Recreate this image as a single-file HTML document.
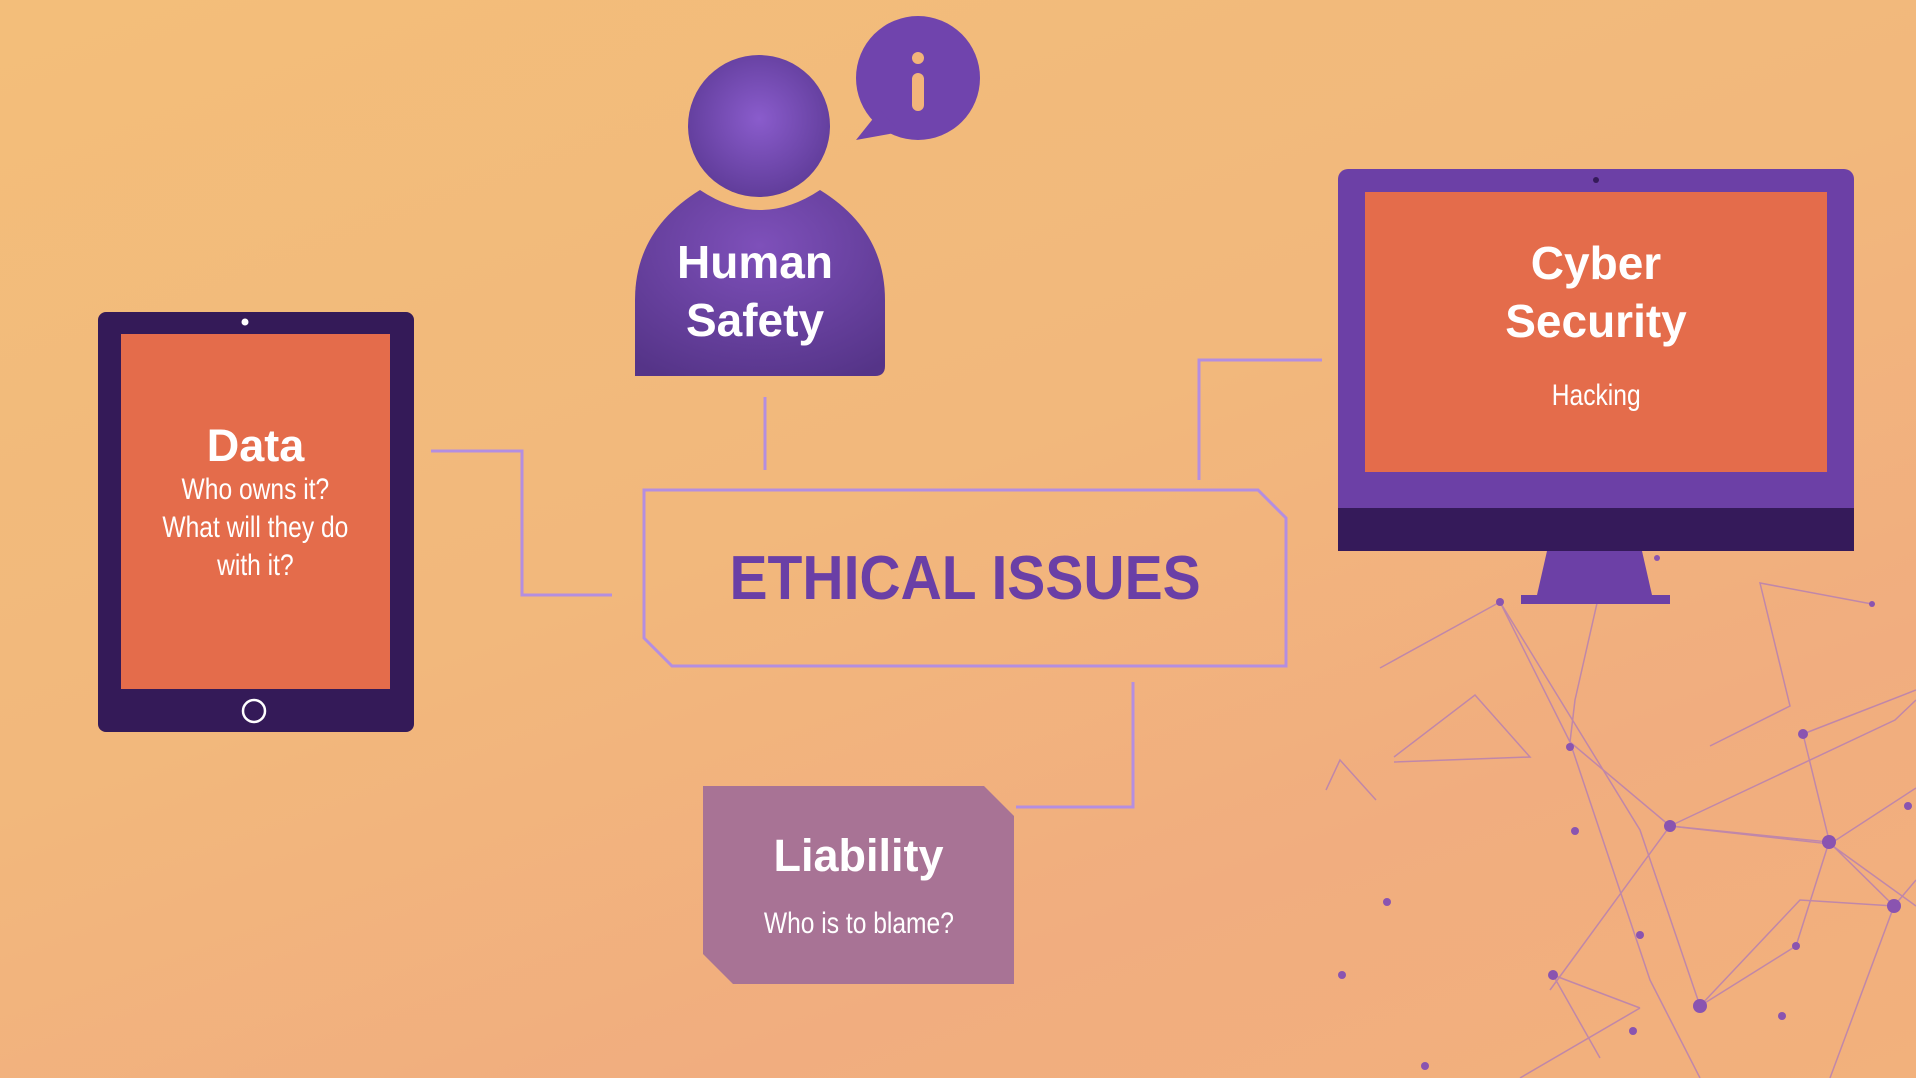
<!DOCTYPE html>
<html><head><meta charset="utf-8"><style>
html,body{margin:0;padding:0;}
body{width:1916px;height:1078px;overflow:hidden;position:relative;
background:linear-gradient(160deg,#f3be7a 0%,#f2b87c 45%,#f1ad7f 75%,#f2b17c 100%);
font-family:"Liberation Sans",sans-serif;}
.abs{position:absolute;}
.ctr{text-align:center;}
.narrow{display:inline-block;transform:scaleX(0.82);}
</style></head><body>
<svg class="abs" style="left:0;top:0" width="1916" height="1078">
  <g stroke="#b07ab8" stroke-width="1.5" fill="none" opacity="0.75">
    <polyline points="1380,668 1500,602 1570,742 1650,980 1700,1078"/>
    <polyline points="1570,742 1670,826 1550,990"/>
    <polyline points="1500,602 1640,830 1700,1006 1800,900 1894,906"/>
    <polyline points="1670,826 1830,844 1916,788"/>
    <polyline points="1670,826 1895,720 1916,700"/>
    <polyline points="1670,826 1829,842 1796,946 1700,1006"/>
    <polyline points="1829,842 1894,906 1916,880"/>
    <polyline points="1803,734 1916,690"/>
    <polyline points="1803,734 1830,844 1916,906"/>
    <polyline points="1710,746 1790,706 1760,583 1872,604"/>
    <polyline points="1394,757 1475,695 1530,757 1394,762"/>
    <polyline points="1640,1008 1553,975 1600,1058"/>
    <polyline points="1894,906 1830,1078"/>
    <polyline points="1640,1008 1520,1078"/>
    <polyline points="1570,742 1575,700 1600,590"/>
    <polyline points="1326,790 1340,760 1376,800"/>
  </g>
  <g fill="#8a54b0">
    <circle cx="1500" cy="602" r="4"/><circle cx="1570" cy="747" r="4"/><circle cx="1575" cy="831" r="4"/>
    <circle cx="1670" cy="826" r="6"/><circle cx="1829" cy="842" r="7"/><circle cx="1894" cy="906" r="7"/>
    <circle cx="1803" cy="734" r="5"/><circle cx="1640" cy="935" r="4"/><circle cx="1796" cy="946" r="4"/>
    <circle cx="1700" cy="1006" r="7"/><circle cx="1553" cy="975" r="5"/><circle cx="1633" cy="1031" r="4"/>
    <circle cx="1782" cy="1016" r="4"/><circle cx="1387" cy="902" r="4"/><circle cx="1342" cy="975" r="4"/>
    <circle cx="1657" cy="558" r="3"/><circle cx="1872" cy="604" r="3"/><circle cx="1908" cy="806" r="4"/>
    <circle cx="1425" cy="1066" r="4"/>
  </g>
  <g stroke="#b48ee0" stroke-width="3" fill="none">
    <polyline points="431,451 522,451 522,595 612,595"/>
    <polyline points="765,397 765,470"/>
    <polyline points="1322,360 1199,360 1199,480"/>
    <polyline points="1133,682 1133,807 1016,807"/>
  </g>
  <g>
    <rect x="98" y="312" width="316" height="420" rx="8" fill="#341a58"/>
    <rect x="121" y="334" width="269" height="355" fill="#e46c4b"/>
    <circle cx="245" cy="322" r="3.5" fill="#fff"/>
    <circle cx="254" cy="711" r="11" fill="none" stroke="#fff" stroke-width="2.5"/>
  </g>
  <defs>
    <radialGradient id="hg" cx="0.5" cy="0.45" r="0.6"><stop offset="0" stop-color="#8a5ccc"/><stop offset="1" stop-color="#5d3a96"/></radialGradient>
    <radialGradient id="bg2" cx="0.5" cy="0.3" r="0.8"><stop offset="0" stop-color="#7e50ba"/><stop offset="1" stop-color="#553488"/></radialGradient>
  </defs>
  <g>
    <path d="M635,376 L635,300 Q635,230 700,190 Q760,230 820,190 Q885,230 885,300 L885,366 Q885,376 875,376 Z" fill="url(#bg2)"/>
    <circle cx="759" cy="126" r="71" fill="url(#hg)"/>
    <circle cx="918" cy="78" r="62" fill="#7044ad"/>
    <path d="M880,110 L856,140 L900,132 Z" fill="#7044ad"/>
    <circle cx="918" cy="58" r="6" fill="#f2b47a"/>
    <rect x="912" y="73" width="12" height="38" rx="6" fill="#f2b47a"/>
  </g>
  <g>
    <rect x="1338" y="169" width="516" height="382" rx="10" fill="#6c40a6"/>
    <rect x="1338" y="508" width="516" height="43" fill="#351a5a"/>
    <rect x="1365" y="192" width="462" height="280" fill="#e46c4b"/>
    <circle cx="1596" cy="180" r="3" fill="#351a5a"/>
    <path d="M1547,551 L1642,551 L1652,595 L1537,595 Z" fill="#6c40a6"/>
    <rect x="1521" y="595" width="149" height="9" fill="#6c40a6"/>
  </g>
  <path d="M644,490 L1258,490 L1286,518 L1286,666 L672,666 L644,638 Z" fill="none" stroke="#b48ee0" stroke-width="3"/>
  <path d="M703,786 L984,786 L1014,816 L1014,984 L733,984 L703,954 Z" fill="#a87395"/>
</svg>

<div class="abs ctr" style="left:121px;top:418px;width:269px;color:#fff">
  <div style="font-size:45px;font-weight:bold;line-height:56px">Data</div>
  <div style="font-size:30px;line-height:38px;margin-top:-3px"><span class="narrow">Who owns it?<br>What will they do<br>with it?</span></div>
</div>
<div class="abs ctr" style="left:635px;top:233px;width:240px;color:#fff;font-size:46px;font-weight:bold;line-height:58px">Human<br>Safety</div>
<div class="abs ctr" style="left:1365px;top:234px;width:462px;color:#fff">
  <div style="font-size:46px;font-weight:bold;line-height:58px">Cyber<br>Security</div>
  <div style="font-size:30px;line-height:40px;margin-top:26px"><span class="narrow">Hacking</span></div>
</div>
<div class="abs ctr" style="left:644px;top:542px;width:642px;color:#6a3fa6;font-size:62px;font-weight:bold;line-height:74px"><span style="display:inline-block;transform:scaleX(0.92)">ETHICAL ISSUES</span></div>
<div class="abs ctr" style="left:703px;top:828px;width:311px;color:#fff">
  <div style="font-size:45px;font-weight:bold;line-height:56px">Liability</div>
  <div style="font-size:30px;line-height:40px;margin-top:20px"><span class="narrow">Who is to blame?</span></div>
</div>
</body></html>
